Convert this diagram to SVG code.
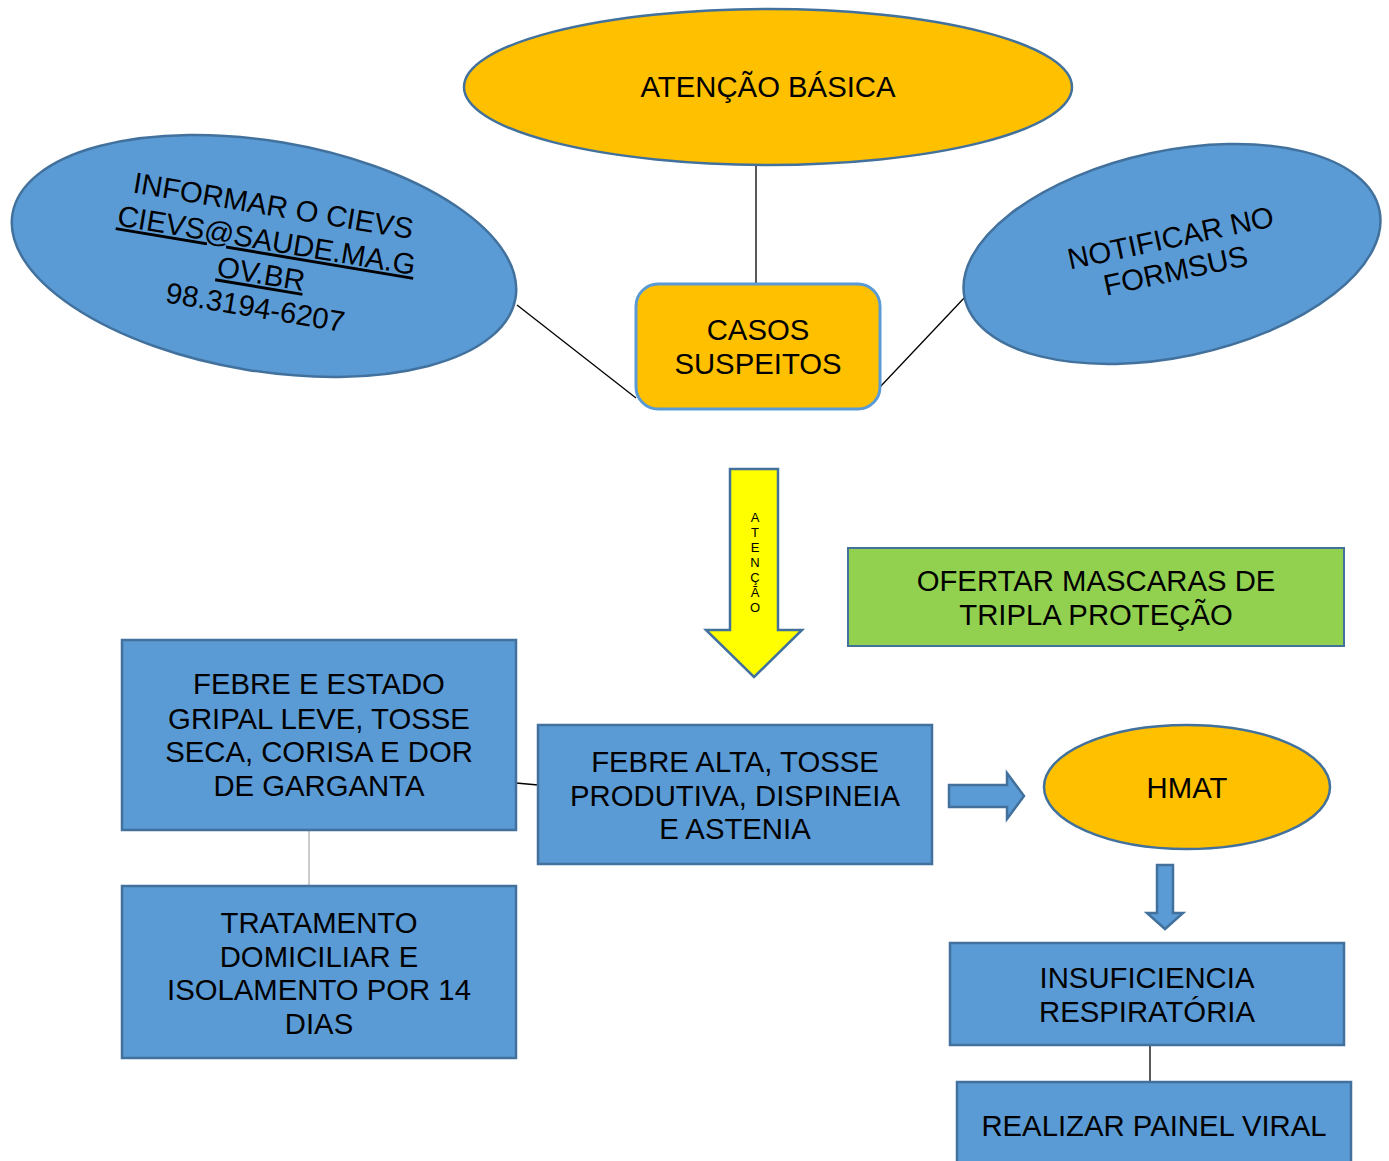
<svg xmlns="http://www.w3.org/2000/svg" width="1389" height="1161" viewBox="0 0 1389 1161">
<style>
text{font-family:"Liberation Sans",Arial,sans-serif;font-size:29.3px;fill:#000;text-anchor:middle}
.gold{fill:#FFC000;stroke:#41719C;stroke-width:2.5}
.blue{fill:#5B9BD5;stroke:#41719C;stroke-width:2.5}
.green{fill:#92D050;stroke:#41719C;stroke-width:2}
.ln{stroke:#000;stroke-width:1.3;fill:none}
text.small{font-size:13px}
</style>
<rect width="1389" height="1161" fill="#fff"/>
<g id="connectors">
<line class="ln" x1="756" y1="165" x2="756" y2="285"/>
<line class="ln" x1="517" y1="305" x2="636" y2="398"/>
<line class="ln" x1="880" y1="387" x2="966" y2="296"/>
<line class="ln" x1="516" y1="783" x2="538" y2="785"/>
<line x1="309" y1="830" x2="309" y2="886" stroke="#999" stroke-width="1"/>
<line class="ln" x1="1150" y1="1045" x2="1150" y2="1082"/>
<path id="arrow-atencao" d="M730,469 H778 V630 H802 L754,677 L706,630 H730 Z" fill="#FFFF00" stroke="#41719C" stroke-width="2.5"/>
<g>
<text x="755" y="522" class="small">A</text>
<text x="755" y="537" class="small">T</text>
<text x="755" y="552" class="small">E</text>
<text x="755" y="567" class="small">N</text>
<text x="755" y="582" class="small">Ç</text>
<text x="755" y="597" class="small">Ã</text>
<text x="755" y="612" class="small">O</text>
</g>
<path id="arrow-right" d="M949,785 H1007 V773 L1024,796 L1007,819 V807 H949 Z" class="blue" stroke-width="2"/>
<path id="arrow-down" d="M1157,865 H1173 V913 H1183 L1165,929 L1147,913 H1157 Z" class="blue" stroke-width="2"/>
</g>
<g id="atencao-basica">
<ellipse class="gold" cx="768" cy="87" rx="304" ry="78"/>
<text x="768" y="97">ATENÇÃO BÁSICA</text>
</g>
<g id="informar-cievs" transform="rotate(9.5 264 256)">
<ellipse class="blue" cx="264" cy="256" rx="255" ry="115"/>
<text x="265" y="215">INFORMAR O CIEVS</text>
<text x="264" y="250" text-decoration="underline">CIEVS@SAUDE.MA.G</text>
<text x="264" y="284" text-decoration="underline">OV.BR</text>
<text x="264" y="318">98.3194-6207</text>
</g>
<g id="notificar" transform="rotate(-12 1172 254)">
<ellipse class="blue" cx="1172" cy="254" rx="212" ry="103"/>
<text x="1174" y="248">NOTIFICAR NO</text>
<text x="1172" y="281">FORMSUS</text>
</g>
<g id="casos-suspeitos">
<rect x="636" y="284" width="244" height="125" rx="22" fill="#FFC000" stroke="#5B9BD5" stroke-width="3"/>
<text x="758" y="340">CASOS</text>
<text x="758" y="374">SUSPEITOS</text>
</g>
<g id="ofertar-mascaras">
<rect class="green" x="848" y="548" width="496" height="98"/>
<text x="1096" y="591">OFERTAR MASCARAS DE</text>
<text x="1096" y="625">TRIPLA PROTEÇÃO</text>
</g>
<g id="febre-leve">
<rect class="blue" x="122" y="640" width="394" height="190"/>
<text x="319" y="694">FEBRE E ESTADO</text>
<text x="319" y="729">GRIPAL LEVE, TOSSE</text>
<text x="319" y="762">SECA, CORISA E DOR</text>
<text x="319" y="796">DE GARGANTA</text>
</g>
<g id="tratamento">
<rect class="blue" x="122" y="886" width="394" height="172"/>
<text x="319" y="933">TRATAMENTO</text>
<text x="319" y="967">DOMICILIAR E</text>
<text x="319" y="1000">ISOLAMENTO POR 14</text>
<text x="319" y="1034">DIAS</text>
</g>
<g id="febre-alta">
<rect class="blue" x="538" y="725" width="394" height="139"/>
<text x="735" y="772">FEBRE ALTA, TOSSE</text>
<text x="735" y="806">PRODUTIVA, DISPINEIA</text>
<text x="735" y="839">E ASTENIA</text>
</g>
<g id="hmat">
<ellipse class="gold" cx="1187" cy="787" rx="143" ry="62"/>
<text x="1187" y="798">HMAT</text>
</g>
<g id="insuficiencia">
<rect class="blue" x="950" y="943" width="394" height="102"/>
<text x="1147" y="988">INSUFICIENCIA</text>
<text x="1147" y="1022">RESPIRATÓRIA</text>
</g>
<g id="painel-viral">
<rect class="blue" x="957" y="1082" width="394" height="90"/>
<text x="1154" y="1136">REALIZAR PAINEL VIRAL</text>
</g>
</svg>
